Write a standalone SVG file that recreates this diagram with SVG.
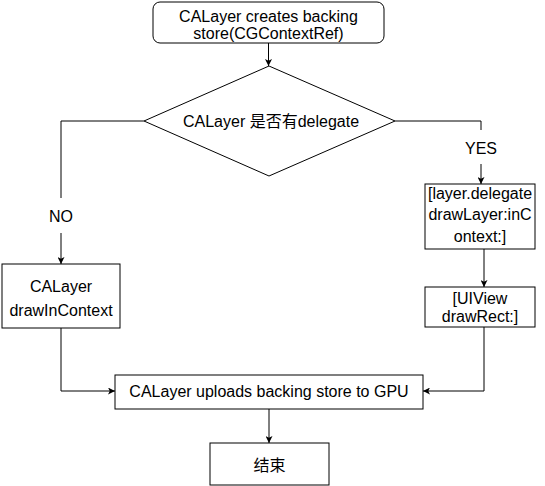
<svg xmlns="http://www.w3.org/2000/svg" width="545" height="486" viewBox="0 0 545 486">
<defs>
<marker id="ah" viewBox="0 0 10 10" refX="10" refY="5" markerWidth="7" markerHeight="7" markerUnits="userSpaceOnUse" orient="auto">
<path d="M0,0 L10,5 L0,10 L2.5,5 z" fill="#000"/>
</marker>
<style>
.n{fill:#fff;stroke:#000;stroke-width:1}
.c{fill:none;stroke:#000;stroke-width:1}
text{font-family:"Liberation Sans","Noto Sans CJK SC",sans-serif;font-size:16px;fill:#000;text-anchor:middle}
</style>
</defs>
<rect width="545" height="486" fill="#fff"/>
<g id="connectors">
<path class="c" d="M268.5,43 V66" marker-end="url(#ah)"/>
<path class="c" d="M144,121 H61 V198"/>
<path class="c" d="M61,233 V264" marker-end="url(#ah)"/>
<path class="c" d="M395,121 H481 V130"/>
<path class="c" d="M481,164 V184" marker-end="url(#ah)"/>
<path class="c" d="M484,249 V287" marker-end="url(#ah)"/>
<path class="c" d="M61,328 V391 H115" marker-end="url(#ah)"/>
<path class="c" d="M484,327 V391 H423" marker-end="url(#ah)"/>
<path class="c" d="M269,409 V443" marker-end="url(#ah)"/>
<text x="61" y="222">NO</text>
<text x="481" y="154">YES</text>
</g>
<g id="start">
<rect class="n" x="153" y="2" width="231" height="41" rx="7"/>
<text x="268.5" y="22">CALayer creates backing</text>
<text x="268.5" y="39">store(CGContextRef)</text>
</g>
<g id="decision">
<path class="n" d="M269,66 L395,121 L269,176 L144,121 Z"/>
<text x="271" y="127">CALayer 是否有delegate</text>
</g>
<g id="drawInContext">
<rect class="n" x="2" y="264" width="118" height="64"/>
<text x="61" y="292">CALayer</text>
<text x="61" y="316">drawInContext</text>
</g>
<g id="delegateDraw">
<rect class="n" x="425" y="184" width="110" height="65"/>
<text x="480" y="199">[layer.delegate</text>
<text x="480" y="220">drawLayer:inC</text>
<text x="480" y="242">ontext:]</text>
</g>
<g id="drawRect">
<rect class="n" x="425" y="287" width="110" height="40"/>
<text x="480" y="304">[UIView</text>
<text x="480" y="322">drawRect:]</text>
</g>
<g id="upload">
<rect class="n" x="115" y="375" width="308" height="34"/>
<text x="269" y="397">CALayer uploads backing store to GPU</text>
</g>
<g id="end">
<rect class="n" x="210" y="443" width="119" height="42"/>
<text x="269.5" y="471">结束</text>
</g>
</svg>
